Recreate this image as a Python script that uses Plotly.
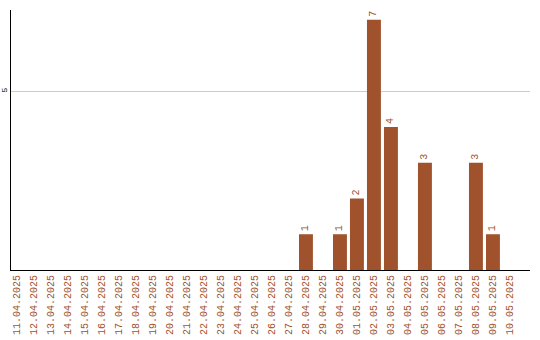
import plotly.graph_objects as go

dates = ["11.04.2025", "12.04.2025", "13.04.2025", "14.04.2025", "15.04.2025",
         "16.04.2025", "17.04.2025", "18.04.2025", "19.04.2025", "20.04.2025",
         "21.04.2025", "22.04.2025", "23.04.2025", "24.04.2025", "25.04.2025",
         "26.04.2025", "27.04.2025", "28.04.2025", "29.04.2025", "30.04.2025",
         "01.05.2025", "02.05.2025", "03.05.2025", "04.05.2025", "05.05.2025",
         "06.05.2025", "07.05.2025", "08.05.2025", "09.05.2025", "10.05.2025"]
values = [0, 0, 0, 0, 0, 0, 0, 0, 0, 0,
          0, 0, 0, 0, 0, 0, 0, 1, 0, 1,
          2, 7, 4, 0, 3, 0, 0, 3, 1, 0]
y_ticks = [5]

COLOR = "#A0522D"
labels = [str(v) if v else "" for v in values]

fig = go.Figure(go.Bar(
    x=dates, y=values, marker=dict(color=COLOR, line=dict(width=0)),
    text=labels, textposition="outside", textangle=-90,
    textfont=dict(family="Liberation Mono", size=10, color=COLOR),
    cliponaxis=False,
))

fig.update_layout(
    width=540, height=340,
    margin=dict(l=11, r=10, t=10, b=70),
    paper_bgcolor="white", plot_bgcolor="white",
    bargap=0.18, showlegend=False,
    uniformtext=dict(minsize=10, mode="show"),
    xaxis=dict(type="category", range=[-0.35, 30.18], tickangle=-90,
               tickfont=dict(family="Liberation Mono", size=10, color=COLOR),
               showline=True, linecolor="black", linewidth=1,
               showgrid=False, ticks="", zeroline=False, automargin=False),
    yaxis=dict(range=[0, 7.27], tickvals=y_ticks, ticktext=[str(t) for t in y_ticks],
               tickangle=-90, tickfont=dict(family="Liberation Mono", size=8, color="black"),
               showline=True, linecolor="black", linewidth=1,
               showgrid=True, gridcolor="#cccccc", gridwidth=1,
               ticks="", zeroline=False, automargin=False),
)

fig.write_html("out.html")
